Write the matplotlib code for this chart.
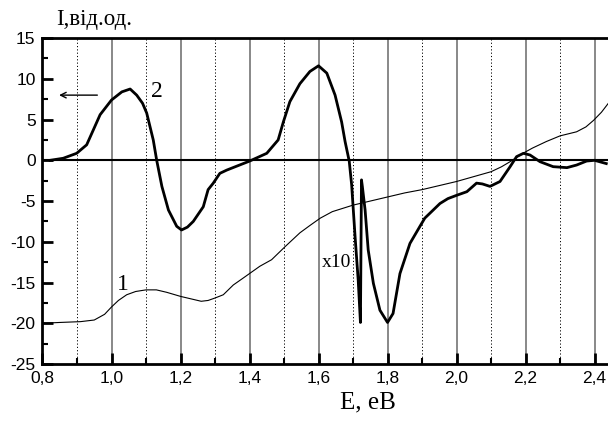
import numpy as np
import matplotlib
matplotlib.use('Agg')
import matplotlib.pyplot as plt
from matplotlib.ticker import MultipleLocator, FuncFormatter

# curve 1 (thin)
e1 = [0.80, 0.85, 0.91, 0.95, 0.98, 1.00, 1.02, 1.044, 1.07, 1.10, 1.13, 1.16, 1.20, 1.23, 1.26, 1.28,
      1.30, 1.324, 1.353, 1.38, 1.40, 1.43, 1.464, 1.503, 1.546, 1.575, 1.605, 1.64, 1.67, 1.70,
      1.75, 1.80, 1.85, 1.90, 1.95, 2.00, 2.05, 2.10, 2.13, 2.162, 2.19, 2.22, 2.26, 2.30,
      2.348, 2.375, 2.397, 2.42, 2.44]
i1 = [-20.0, -19.9, -19.8, -19.6, -18.9, -18.0, -17.2, -16.5, -16.1, -15.9, -15.9, -16.2, -16.7, -17.0, -17.3, -17.2,
      -16.9, -16.5, -15.3, -14.5, -13.9, -13.0, -12.2, -10.6, -8.9, -8.0, -7.1, -6.3, -5.9, -5.5,
      -5.0, -4.5, -4.0, -3.6, -3.1, -2.6, -2.0, -1.4, -0.8, 0.0, 0.8, 1.5, 2.3, 3.0,
      3.5, 4.1, 4.9, 5.9, 7.0]

# curve 2 (thick, x10 past ~1.7 eV)
e2 = [0.822, 0.86, 0.899, 0.928, 0.947, 0.967, 1.0, 1.03, 1.054, 1.073, 1.09, 1.102, 1.121, 1.131, 1.146,
      1.165, 1.189, 1.203, 1.22, 1.237, 1.266, 1.28, 1.295, 1.314, 1.334, 1.37, 1.40, 1.45, 1.483, 1.498,
      1.517, 1.546, 1.575, 1.60, 1.624, 1.648, 1.667, 1.677, 1.689, 1.696, 1.706, 1.715, 1.7215, 1.7245, 1.727,
      1.735, 1.744, 1.759, 1.778, 1.80, 1.816, 1.836, 1.865, 1.894, 1.908, 1.93, 1.952, 1.975, 2.0,
      2.03, 2.058, 2.075, 2.097, 2.126, 2.155, 2.174, 2.194, 2.213, 2.242, 2.28, 2.32, 2.348,
      2.377, 2.40, 2.434]
i2 = [0.0, 0.25, 0.86, 1.9, 3.7, 5.6, 7.4, 8.4, 8.75, 8.0, 7.0, 5.8, 2.5, 0.0, -3.2,
      -6.1, -8.1, -8.55, -8.2, -7.5, -5.7, -3.6, -2.8, -1.6, -1.2, -0.6, -0.1, 0.86, 2.5, 4.7,
      7.2, 9.4, 10.9, 11.6, 10.7, 8.0, 4.7, 2.3, -0.1, -3.0, -9.4, -14.7, -19.9, -2.4, -3.2,
      -6.1, -11.0, -15.1, -18.4, -19.9, -18.8, -13.9, -10.2, -8.1, -7.1, -6.2, -5.3, -4.7, -4.3,
      -3.85, -2.8, -2.9, -3.2, -2.6, -0.8, 0.45, 0.86, 0.65, -0.17, -0.78, -0.9, -0.58,
      -0.09, 0.0, -0.4]

serif = 'Liberation Serif'
sans = 'Liberation Sans'

fig = plt.figure(figsize=(6.08, 4.28), dpi=100)
ax = fig.add_axes([0.0699, 0.1495, 0.9301, 0.7615])

ax.set_xlim(0.8, 2.439)
ax.set_ylim(-25, 15)

# grid: solid gray at major, dotted at minor
for x in np.arange(1.0, 2.41, 0.2):
    ax.axvline(x, color='#7f7f7f', lw=1.3, zorder=1)
for x in np.arange(0.9, 2.41, 0.2):
    ax.axvline(x, color='black', lw=0.7, ls=(0, (1.2, 2.2)), zorder=1)
ax.axhline(0, color='black', lw=1.5, zorder=2)

ax.plot(e1, i1, color='black', lw=0.8, zorder=3, solid_joinstyle='round')
ax.plot(e2, i2, color='black', lw=2.0, zorder=4, solid_joinstyle='round')

ax.xaxis.set_major_locator(MultipleLocator(0.2))
ax.xaxis.set_minor_locator(MultipleLocator(0.1))
ax.yaxis.set_major_locator(MultipleLocator(5))
ax.yaxis.set_minor_locator(MultipleLocator(2.5))
ax.xaxis.set_major_formatter(FuncFormatter(lambda v, p: f'{v:.1f}'.replace('.', ',')))
ax.yaxis.set_major_formatter(FuncFormatter(lambda v, p: f'{v:.0f}'))
ax.tick_params(which='major', direction='in', length=8, width=2, labelsize=12.5, pad=5)
ax.tick_params(which='minor', direction='in', length=4.5, width=1.5)
for lab in ax.get_xticklabels() + ax.get_yticklabels():
    lab.set_fontfamily(sans)

for s in ['left', 'top', 'bottom']:
    ax.spines[s].set_linewidth(2)
ax.spines['right'].set_visible(False)

ax.set_xlabel('E, eB', fontfamily=serif, fontsize=18, labelpad=4)
ax.xaxis.set_label_coords(0.576, -0.085)
fig.text(0.092, 0.955, 'I,від.од.', fontfamily=serif, fontsize=16.5, ha='left', va='center')

ax.text(1.115, 8.5, '2', fontfamily=serif, fontsize=17, ha='left', va='center')
ax.text(1.015, -15.3, '1', fontfamily=serif, fontsize=17, ha='left', va='center')
ax.text(1.61, -12.5, 'x10', fontfamily=serif, fontsize=14, ha='left', va='center')
ax.annotate('', xy=(0.84, 8.0), xytext=(0.967, 8.0),
            arrowprops=dict(arrowstyle='->', color='black', lw=1.0))

fig.savefig('out.png', dpi=100)
